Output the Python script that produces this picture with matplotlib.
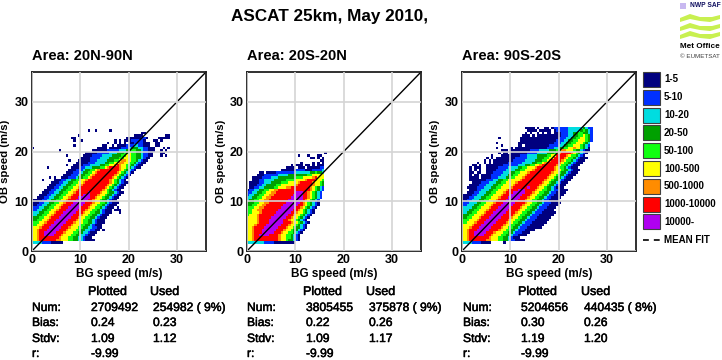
import numpy as np
import matplotlib
matplotlib.use("Agg")
import matplotlib.pyplot as plt
import matplotlib.patheffects as pe
from matplotlib.colors import ListedColormap, BoundaryNorm
from matplotlib.patches import Rectangle, Polygon

plt.rcParams['font.family'] = ['Liberation Sans', 'DejaVu Sans']

title = "ASCAT 25km, May 2010,"
areas = ["Area: 20N-90N", "Area: 20S-20N", "Area: 90S-20S"]
legend_labels = ["1-5", "5-10", "10-20", "20-50", "50-100", "100-500", "500-1000", "1000-10000", "10000-"]
legend_colors = ["#00007f", "#0030ff", "#00dde0", "#00a000", "#10ff10", "#ffff00", "#ff8c00", "#ff0000", "#b000f0"]
ticks = [0, 10, 20, 30]

num_plotted = ["2709492", "3805455", "5204656"]
num_used = ["254982 ( 9%)", "375878 ( 9%)", "440435 ( 8%)"]
bias_plotted = ["0.24", "0.22", "0.30"]
bias_used = ["0.23", "0.26", "0.26"]
stdv_plotted = ["1.09", "1.09", "1.19"]
stdv_used = ["1.12", "1.17", "1.20"]
r_plotted = ["-9.99", "-9.99", "-9.99"]

# density class of each 0.5 m/s cell, "." = empty, first row is OB 1.5 m/s
north_rows = [
    "3333222211111",
    "66788888887766655443321111",
    "6678888888876665544332111",
    "66788999988876665544332111",
    "667889999988876665544332111",
    "6678889999988876665544332211.1",
    "66678889999988876665544332211",
    "55667888999998887666554432111",
    "555667888999998887666554432111",
    "445566788899999888766554432111",
    "4445566788899999888766554432111",
    "33445566788899999888766554432111",
    "333445566788899999888766554432111...1",
    "223344556678889999988876655432111.111",
    "2223344556678889999988876655432111.1",
    "11223344556678889999988876655432111",
    "111223344556678889999988876655432111",
    "11112233445566788899999887665443211",
    "..1112233445566788899999887665443211",
    "...1112233445566788889998887665443211",
    "....1112233445566788888988887665443211",
    ".....11122334455667888888888876543211",
    "......11122334455667888888888876543211",
    ".......11122334455667888888888876543211",
    "........11122334455667888888888876543211",
    "....1....111223344556678888888887654321",
    ".......1.1..1112223445567888888887654321",
    ".............1112223445567888888887654321",
    "..............1112223445567888888887654321",
    "...............1112223445567888888887654321",
    "......1.........11112233344455678888766543211",
    "..............1..11112223333445566787665543211",
    "..................11111222333344556677665543211",
    "...............1...11111222333344455677665543211",
    "....................11112222333344445566655443211",
    "..............1......11112222333344445566554432211...1.1",
    "......................1111122222333444556554432211...11",
    "...........1.............11111122222333445544322111..1.1",
    "1..........................1111.1111122234443322111...1.1",
    ".................1...........11..1.11112223322111..11",
    "...............................1..1.1.1.112222111..11",
    ".................1..1.............1.1.111222221...11.1",
    "................11.....................111111221....11111",
    "...................1......................1111.........11",
    ".............................................11",
    ".......................1..1.....1",
]

tropics_rows = [
    "33333332222111111111",
    "6678888888888766544321",
    "6678888888888766554321",
    "6678899998888766554321",
    "66788899999888766554321",
    "667888999999888766544321",
    "6678888999999888766544321",
    "6667888899999988876654321",
    "66667888899999988876654321",
    "6666788889999998876654321",
    "66667888889999998876654321",
    "566678888889999998876654321",
    "5566678888889999998876654321",
    "5566778888888999999887654321",
    "55566778888888999999887654321",
    "445566778888888999999887654321",
    "444556677888888899999987654321",
    "344556677888888889999998765432",
    "3344556677888888889999988765432",
    "2334455667788888888999988765432",
    "2233445566778888888899988765432",
    "12233445566778888888888888765432",
    ".1122334444556667788888888765432",
    ".1112233444455666666788888876654",
    ".1111223334444555666678888876654",
    "..111223333444445555666678887665",
    "..111122223334444444555666678666",
    "....1112222223333444444445566666",
    ".....11.111122222222333333445443",
    "..............111111222211122223",
    "................1111.111.1111122",
    "..................1.111.11.1.111",
    "......................1....1.1.1",
    "..............................11",
    "..........................11.1.1",
    ".....................1...1...11",
    "................................1",
]

south_rows = [
    "333322221111.....1",
    "66788888887766655443221111",
    "667888888887666554432111",
    "667889999888766655443221111",
    "6678899999888766655443222111",
    "667888999998888766554432221111",
    "666788899999888876655443222111111",
    "6666788899999888876655443222111111",
    "55666788899999888876655443222111111",
    "555666788899999888876655443222111111",
    "4455666788899999888876655443222111111",
    "44455666788899999888876655443222111111",
    "334455666788899999888876655443222111111",
    "33344556667888999998888766554432221111",
    "333344556667888999998888766554432221111",
    "2233344556667888999998888766554432221111",
    "22233344556667888999998888766554432221111",
    "1122333445566678889999988876655443221111",
    "11122333445566678889999988876655443221111",
    "111122333445566678889999988876655443221111",
    "..11122333445566678889999988876655443221111",
    "...11122333445566678888999888876655443221111",
    "..1111222333445566667888888988876654432111",
    "...1111222333445566667888888888876654432111",
    "....1111222333445566667888888888876654432111",
    "...111111122233445566666788888888876654432111",
    "...1111.11112223334455666788888888876654432111",
    "...1.11.111122223334455666788888888876654432111",
    "...11.11..11122223334455666788888888876654432111",
    "...1.1.1..111122223333445566678888888876654432111",
    "...1.111..11111222233334455666788888887655432111",
    "....11.1..111111122222233344556678888887655432111",
    "......1..1.1.1111112222223333445567888887655432111",
    ".........1.1.11111111222223333444556788887655432111",
    "..........1.1.11111111222223333444556688887655432111",
    "............1...11111111222333344445566888876554321",
    "...............1.11.11111112222333344456788887654321",
    "................111.111111112222333344455776665443211",
    "..............1.....1.1111111111111222334455667665431",
    "................1......11.111111111122223344556665432",
    "..............1........111111111111111222334455666543",
    "........................111111111111111222334455666542",
    "...............1........111111111111111122233445566542",
    ".........................111.1.11111111112223344556542",
    "..........................1.1..1.1.11.1112223344554432",
    "...........................1111.11111.1222223333345432",
    "..........................1111.1..11.12222223333334322",
]

panel_rows = [north_rows, tropics_rows, south_rows]
stat_names = ["Num:", "Bias:", "Stdv:", "r:"]


def rows_to_grid(rows):
    width = max(len(r) for r in rows)
    grid = np.full((len(rows), width), np.nan)
    for i, r in enumerate(rows):
        for j, ch in enumerate(r):
            if ch != ".":
                grid[i, j] = int(ch)
    return np.ma.masked_invalid(grid)


W, H = 722, 360
fig = plt.figure(figsize=(W / 100, H / 100), dpi=100)
cmap = ListedColormap(legend_colors)
norm = BoundaryNorm(np.arange(0.5, 10.5, 1), cmap.N)

lefts = [32, 247, 462]
top, bottom, side = 72, 251, 174

for k in range(3):
    ax = fig.add_axes([lefts[k] / W, 1 - bottom / H, side / W, (bottom - top) / H])
    grid = rows_to_grid(panel_rows[k])
    xe = np.arange(grid.shape[1] + 1) * 0.5
    ye = 1.5 + np.arange(grid.shape[0] + 1) * 0.5
    ax.pcolormesh(xe, ye, grid, cmap=cmap, norm=norm, zorder=1)
    ax.set_xlim(0, 36)
    ax.set_ylim(0, 36)
    ax.set_xticks(ticks)
    ax.set_yticks(ticks)
    ax.plot([0, 36], [0, 36], color="black", lw=1.0, zorder=1.5)
    ax.grid(True, color="#d4d4d4", lw=1.2)
    ax.set_axisbelow(False)
    ax.tick_params(length=0, labelsize=9, pad=2.5)
    for t in ax.get_xticklabels() + ax.get_yticklabels():
        t.set_fontweight("bold")
    ax.set_xlabel("BG speed (m/s)", fontsize=8.5, fontweight="bold", labelpad=1)
    ax.set_ylabel("OB speed (m/s)", fontsize=8.2, fontweight="bold")
    ax.yaxis.set_label_coords(-21.5 / side, 0.5)
    for s in ax.spines.values():
        s.set_linewidth(1.3)
        s.set_color("#202020")
    ax.set_title(areas[k], loc="left", fontsize=10.5, fontweight="bold", pad=9)

# everything else is placed in pixel coordinates
over = fig.add_axes([0, 0, 1, 1])
over.set_xlim(0, W)
over.set_ylim(H, 0)
over.axis("off")
over.patch.set_alpha(0)

over.text(330, 17, title, ha="center", va="center", fontsize=12.3, fontweight="bold")

# legend
for i, lab in enumerate(legend_labels):
    yc = 79.5 + i * 17.8
    over.add_patch(Rectangle((643, yc - 7.5), 17, 15, fc=legend_colors[i], ec="#404040", lw=0.8))
    over.text(664, yc, lab, va="center", fontsize=7, fontweight="bold")
over.plot([643, 660], [240, 240], color="black", lw=1.2, ls=(0, (3.5, 3)))
over.text(664, 240, "MEAN FIT", va="center", fontsize=7, fontweight="bold")

# stats tables, a thin stroke to match the heavier look of the original text
heavy = [pe.withStroke(linewidth=0.35, foreground="black")]
name_x = [32, 247, 463]
plotted_x = [88, 303, 518]
used_x = [150, 366, 581]
row_y = [308, 323, 339, 354]
for k in range(3):
    over.text(plotted_x[k], 292, "Plotted", va="center", fontsize=9, path_effects=heavy)
    over.text(used_x[k], 292, "Used", va="center", fontsize=9, path_effects=heavy)
    col1 = [num_plotted[k], bias_plotted[k], stdv_plotted[k], r_plotted[k]]
    col2 = [num_used[k], bias_used[k], stdv_used[k], ""]
    for i, yy in enumerate(row_y):
        over.text(name_x[k], yy, stat_names[i], va="center", fontsize=8.7, path_effects=heavy)
        over.text(plotted_x[k] + 3, yy, col1[i], va="center", fontsize=8.7, path_effects=heavy)
        over.text(used_x[k] + 3, yy, col2[i], va="center", fontsize=8.7, path_effects=heavy)

# logo
over.add_patch(Rectangle((680, 2.5), 6, 6, fc="#c8b8f0", ec="none"))
over.text(690, 5.5, "NWP SAF", va="center", fontsize=4.8, fontweight="bold", color="#101060")
for yo in [14, 23, 31]:
    px = [680, 690, 700, 712, 720, 720, 710, 700, 690, 680]
    py = [yo + 4, yo, yo + 3, yo + 3, yo + 1, yo + 5, yo + 8, yo + 7, yo + 5, yo + 8]
    over.add_patch(Polygon(list(zip(px, py)), closed=True, fc="#c8f050", ec="none"))
over.text(680, 46, "Met Office", va="center", fontsize=5.9, fontweight="bold")
over.text(680, 56, "© EUMETSAT", va="center", fontsize=4.5, color="#404040")

fig.savefig("out.png", dpi=100)
